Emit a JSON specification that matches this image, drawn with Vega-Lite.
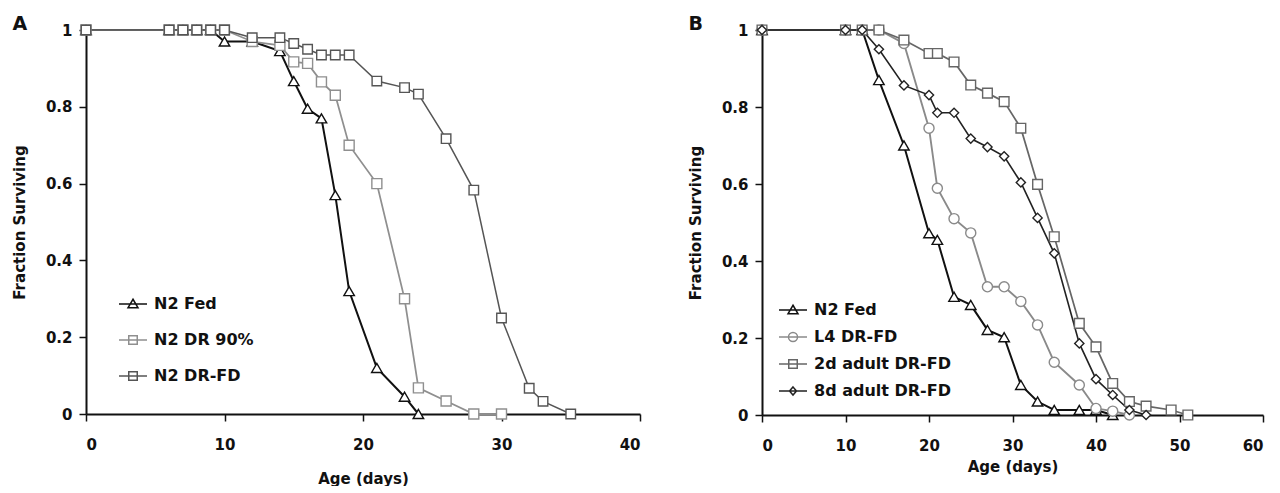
{
  "$schema": "https://vega.github.io/schema/vega-lite/v6.json",
  "background": "white",
  "padding": {"left": 12, "top": 15, "right": 5, "bottom": 0},
  "resolve": {"scale": {"stroke": "independent", "shape": "independent", "size": "independent", "strokeWidth": "independent"}, "legend": {"stroke": "independent", "shape": "independent"}},
  "config": {
    "font": "DejaVu Sans",
    "view": {"stroke": null},
    "concat": {"spacing": 47},
    "axis": {
      "grid": false, "domainColor": "#111", "domainWidth": 2,
      "tickColor": "#111", "tickWidth": 1.5, "tickSize": 7,
      "labelFont": "DejaVu Sans", "labelFontWeight": "bold", "labelFontSize": 15, "labelColor": "#111",
      "titleFont": "DejaVu Sans", "titleFontWeight": "bold", "titleFontSize": 15, "titleColor": "#111"
    },
    "axisY": {"labelPadding": 7, "titlePadding": 18},
    "axisX": {"labelPadding": 16},
    "legend": {
      "orient": "none", "padding": 0, "title": null,
      "labelFont": "DejaVu Sans", "labelFontWeight": "bold", "labelFontSize": 16, "labelColor": "#111",
      "symbolSize": 100, "labelOffset": 13, "symbolStrokeWidth": 1.5, "symbolFillColor": "white", "symbolOpacity": 1
    },
    "title": {"font": "DejaVu Sans", "fontSize": 19, "fontWeight": "bold", "color": "#111", "anchor": "start", "frame": "bounds", "offset": -12}
  },
  "hconcat": [
    {
      "title": "A",
      "width": 554,
      "height": 384,
      "data": {"values": [
        {"series": "N2 Fed", "day": 0, "frac": 1}, {"series": "N2 Fed", "day": 6, "frac": 1}, {"series": "N2 Fed", "day": 7, "frac": 1}, {"series": "N2 Fed", "day": 8, "frac": 1}, {"series": "N2 Fed", "day": 9, "frac": 1},
        {"series": "N2 Fed", "day": 10, "frac": 0.97}, {"series": "N2 Fed", "day": 12, "frac": 0.97}, {"series": "N2 Fed", "day": 14, "frac": 0.945}, {"series": "N2 Fed", "day": 15, "frac": 0.867}, {"series": "N2 Fed", "day": 16, "frac": 0.795},
        {"series": "N2 Fed", "day": 17, "frac": 0.77}, {"series": "N2 Fed", "day": 18, "frac": 0.57}, {"series": "N2 Fed", "day": 19, "frac": 0.32}, {"series": "N2 Fed", "day": 21, "frac": 0.12}, {"series": "N2 Fed", "day": 23, "frac": 0.045}, {"series": "N2 Fed", "day": 24, "frac": 0},
        {"series": "N2 DR 90%", "day": 0, "frac": 1}, {"series": "N2 DR 90%", "day": 6, "frac": 1}, {"series": "N2 DR 90%", "day": 7, "frac": 1}, {"series": "N2 DR 90%", "day": 8, "frac": 1}, {"series": "N2 DR 90%", "day": 9, "frac": 1}, {"series": "N2 DR 90%", "day": 10, "frac": 1},
        {"series": "N2 DR 90%", "day": 12, "frac": 0.97}, {"series": "N2 DR 90%", "day": 14, "frac": 0.96}, {"series": "N2 DR 90%", "day": 15, "frac": 0.917}, {"series": "N2 DR 90%", "day": 16, "frac": 0.913}, {"series": "N2 DR 90%", "day": 17, "frac": 0.865},
        {"series": "N2 DR 90%", "day": 18, "frac": 0.83}, {"series": "N2 DR 90%", "day": 19, "frac": 0.7}, {"series": "N2 DR 90%", "day": 21, "frac": 0.6}, {"series": "N2 DR 90%", "day": 23, "frac": 0.3}, {"series": "N2 DR 90%", "day": 24, "frac": 0.068},
        {"series": "N2 DR 90%", "day": 26, "frac": 0.034}, {"series": "N2 DR 90%", "day": 28, "frac": 0}, {"series": "N2 DR 90%", "day": 30, "frac": 0},
        {"series": "N2 DR-FD", "day": 0, "frac": 1}, {"series": "N2 DR-FD", "day": 6, "frac": 1}, {"series": "N2 DR-FD", "day": 7, "frac": 1}, {"series": "N2 DR-FD", "day": 8, "frac": 1}, {"series": "N2 DR-FD", "day": 9, "frac": 1}, {"series": "N2 DR-FD", "day": 10, "frac": 1},
        {"series": "N2 DR-FD", "day": 12, "frac": 0.98}, {"series": "N2 DR-FD", "day": 14, "frac": 0.98}, {"series": "N2 DR-FD", "day": 15, "frac": 0.965}, {"series": "N2 DR-FD", "day": 16, "frac": 0.95}, {"series": "N2 DR-FD", "day": 17, "frac": 0.935},
        {"series": "N2 DR-FD", "day": 18, "frac": 0.935}, {"series": "N2 DR-FD", "day": 19, "frac": 0.935}, {"series": "N2 DR-FD", "day": 21, "frac": 0.867}, {"series": "N2 DR-FD", "day": 23, "frac": 0.85}, {"series": "N2 DR-FD", "day": 24, "frac": 0.833},
        {"series": "N2 DR-FD", "day": 26, "frac": 0.717}, {"series": "N2 DR-FD", "day": 28, "frac": 0.583}, {"series": "N2 DR-FD", "day": 30, "frac": 0.25}, {"series": "N2 DR-FD", "day": 32, "frac": 0.067}, {"series": "N2 DR-FD", "day": 33, "frac": 0.033}, {"series": "N2 DR-FD", "day": 35, "frac": 0}
      ]},
      "encoding": {
        "x": {"field": "day", "type": "quantitative", "scale": {"domain": [0, 40], "nice": false}, "axis": {"values": [0, 10, 20, 30, 40], "title": "Age (days)", "titlePadding": 19}},
        "y": {"field": "frac", "type": "quantitative", "scale": {"domain": [0, 1], "nice": false}, "axis": {"values": [0, 0.2, 0.4, 0.6, 0.8, 1], "format": ".1~f", "title": "Fraction Surviving"}}
      },
      "resolve": {"scale": {"stroke": "independent", "shape": "independent"}, "legend": {"stroke": "independent", "shape": "independent"}},
      "layer": [
        {"mark": {"type": "line"},
         "encoding": {
           "stroke": {"field": "series", "type": "nominal", "scale": {"domain": ["N2 Fed", "N2 DR 90%", "N2 DR-FD"], "range": ["#111111", "#8f8f8f", "#555555"]}, "legend": null},
           "strokeWidth": {"field": "series", "type": "nominal", "scale": {"domain": ["N2 Fed", "N2 DR 90%", "N2 DR-FD"], "range": [2, 1.5, 1.8]}, "legend": null}}},
        {"mark": {"type": "point", "filled": false, "fill": "white", "fillOpacity": 1, "opacity": 1, "strokeWidth": 1.4},
         "encoding": {
           "stroke": {"field": "series", "type": "nominal", "scale": {"domain": ["N2 Fed", "N2 DR 90%", "N2 DR-FD"], "range": ["#111111", "#8f8f8f", "#555555"]}, "legend": null},
           "shape": {"field": "series", "type": "nominal", "scale": {"domain": ["N2 Fed", "N2 DR 90%", "N2 DR-FD"], "range": ["triangle-up", "square", "square"]}, "legend": null},
           "size": {"field": "series", "type": "nominal", "scale": {"domain": ["N2 Fed", "N2 DR 90%", "N2 DR-FD"], "range": [110, 90, 90]}, "legend": null}
         }},
        {"transform": [{"filter": "datum.day < 0"}],
         "mark": {"type": "point", "filled": false, "strokeWidth": 1.5},
         "encoding": {
           "stroke": {"field": "series", "type": "nominal", "scale": {"domain": ["N2 Fed", "N2 DR 90%", "N2 DR-FD"], "range": ["#111111", "#8f8f8f", "#555555"]},
             "legend": {"legendX": 39, "legendY": 266, "rowPadding": 20}},
           "shape": {"field": "series", "type": "nominal", "scale": {"domain": ["N2 Fed", "N2 DR 90%", "N2 DR-FD"], "range": ["M-2.8,0H2.8M0,-0.95L1,0.75H-1Z", "M-2.8,0H2.8M-0.85,-0.85H0.85V0.85H-0.85Z", "M-2.8,0H2.8M-0.85,-0.85H0.85V0.85H-0.85Z"]},
             "legend": {"legendX": 39, "legendY": 266, "rowPadding": 20}}
         }}
      ]
    },
    {
      "title": "B",
      "width": 501,
      "height": 385,
      "data": {"values": [
        {"series": "N2 Fed", "day": 0, "frac": 1}, {"series": "N2 Fed", "day": 10, "frac": 1}, {"series": "N2 Fed", "day": 12, "frac": 1}, {"series": "N2 Fed", "day": 14, "frac": 0.87}, {"series": "N2 Fed", "day": 17, "frac": 0.7},
        {"series": "N2 Fed", "day": 20, "frac": 0.472}, {"series": "N2 Fed", "day": 21, "frac": 0.455}, {"series": "N2 Fed", "day": 23, "frac": 0.307}, {"series": "N2 Fed", "day": 25, "frac": 0.286}, {"series": "N2 Fed", "day": 27, "frac": 0.221},
        {"series": "N2 Fed", "day": 29, "frac": 0.202}, {"series": "N2 Fed", "day": 31, "frac": 0.078}, {"series": "N2 Fed", "day": 33, "frac": 0.035}, {"series": "N2 Fed", "day": 35, "frac": 0.013}, {"series": "N2 Fed", "day": 38, "frac": 0.013},
        {"series": "N2 Fed", "day": 40, "frac": 0.013}, {"series": "N2 Fed", "day": 42, "frac": 0},
        {"series": "L4 DR-FD", "day": 0, "frac": 1}, {"series": "L4 DR-FD", "day": 10, "frac": 1}, {"series": "L4 DR-FD", "day": 12, "frac": 1}, {"series": "L4 DR-FD", "day": 14, "frac": 1}, {"series": "L4 DR-FD", "day": 17, "frac": 0.965},
        {"series": "L4 DR-FD", "day": 20, "frac": 0.745}, {"series": "L4 DR-FD", "day": 21, "frac": 0.589}, {"series": "L4 DR-FD", "day": 23, "frac": 0.51}, {"series": "L4 DR-FD", "day": 25, "frac": 0.473}, {"series": "L4 DR-FD", "day": 27, "frac": 0.333},
        {"series": "L4 DR-FD", "day": 29, "frac": 0.333}, {"series": "L4 DR-FD", "day": 31, "frac": 0.295}, {"series": "L4 DR-FD", "day": 33, "frac": 0.234}, {"series": "L4 DR-FD", "day": 35, "frac": 0.137}, {"series": "L4 DR-FD", "day": 38, "frac": 0.078},
        {"series": "L4 DR-FD", "day": 40, "frac": 0.017}, {"series": "L4 DR-FD", "day": 42, "frac": 0.01}, {"series": "L4 DR-FD", "day": 44, "frac": 0},
        {"series": "2d adult DR-FD", "day": 0, "frac": 1}, {"series": "2d adult DR-FD", "day": 10, "frac": 1}, {"series": "2d adult DR-FD", "day": 12, "frac": 1}, {"series": "2d adult DR-FD", "day": 14, "frac": 1}, {"series": "2d adult DR-FD", "day": 17, "frac": 0.974},
        {"series": "2d adult DR-FD", "day": 20, "frac": 0.939}, {"series": "2d adult DR-FD", "day": 21, "frac": 0.939}, {"series": "2d adult DR-FD", "day": 23, "frac": 0.917}, {"series": "2d adult DR-FD", "day": 25, "frac": 0.857}, {"series": "2d adult DR-FD", "day": 27, "frac": 0.836},
        {"series": "2d adult DR-FD", "day": 29, "frac": 0.814}, {"series": "2d adult DR-FD", "day": 31, "frac": 0.745}, {"series": "2d adult DR-FD", "day": 33, "frac": 0.599}, {"series": "2d adult DR-FD", "day": 35, "frac": 0.463}, {"series": "2d adult DR-FD", "day": 38, "frac": 0.238},
        {"series": "2d adult DR-FD", "day": 40, "frac": 0.177}, {"series": "2d adult DR-FD", "day": 42, "frac": 0.082}, {"series": "2d adult DR-FD", "day": 44, "frac": 0.035}, {"series": "2d adult DR-FD", "day": 46, "frac": 0.023}, {"series": "2d adult DR-FD", "day": 49, "frac": 0.013},
        {"series": "2d adult DR-FD", "day": 51, "frac": 0},
        {"series": "8d adult DR-FD", "day": 0, "frac": 1}, {"series": "8d adult DR-FD", "day": 10, "frac": 1}, {"series": "8d adult DR-FD", "day": 12, "frac": 1}, {"series": "8d adult DR-FD", "day": 14, "frac": 0.95}, {"series": "8d adult DR-FD", "day": 17, "frac": 0.856},
        {"series": "8d adult DR-FD", "day": 20, "frac": 0.831}, {"series": "8d adult DR-FD", "day": 21, "frac": 0.785}, {"series": "8d adult DR-FD", "day": 23, "frac": 0.785}, {"series": "8d adult DR-FD", "day": 25, "frac": 0.718}, {"series": "8d adult DR-FD", "day": 27, "frac": 0.696},
        {"series": "8d adult DR-FD", "day": 29, "frac": 0.672}, {"series": "8d adult DR-FD", "day": 31, "frac": 0.604}, {"series": "8d adult DR-FD", "day": 33, "frac": 0.512}, {"series": "8d adult DR-FD", "day": 35, "frac": 0.42}, {"series": "8d adult DR-FD", "day": 38, "frac": 0.186},
        {"series": "8d adult DR-FD", "day": 40, "frac": 0.093}, {"series": "8d adult DR-FD", "day": 42, "frac": 0.052}, {"series": "8d adult DR-FD", "day": 44, "frac": 0.013}, {"series": "8d adult DR-FD", "day": 46, "frac": 0}
      ]},
      "encoding": {
        "x": {"field": "day", "type": "quantitative", "scale": {"domain": [0, 60], "nice": false}, "axis": {"values": [0, 10, 20, 30, 40, 50, 60], "title": "Age (days)", "titlePadding": 6}},
        "y": {"field": "frac", "type": "quantitative", "scale": {"domain": [0, 1], "nice": false}, "axis": {"values": [0, 0.2, 0.4, 0.6, 0.8, 1], "format": ".1~f", "title": "Fraction Surviving"}}
      },
      "resolve": {"scale": {"stroke": "independent", "shape": "independent"}, "legend": {"stroke": "independent", "shape": "independent"}},
      "layer": [
        {"mark": {"type": "line"},
         "encoding": {
           "stroke": {"field": "series", "type": "nominal", "scale": {"domain": ["N2 Fed", "L4 DR-FD", "2d adult DR-FD", "8d adult DR-FD"], "range": ["#111111", "#8a8a8a", "#666666", "#222222"]}, "legend": null},
           "strokeWidth": {"field": "series", "type": "nominal", "scale": {"domain": ["N2 Fed", "L4 DR-FD", "2d adult DR-FD", "8d adult DR-FD"], "range": [2, 1.6, 1.8, 2]}, "legend": null}}},
        {"mark": {"type": "point", "filled": false, "fill": "white", "fillOpacity": 1, "opacity": 1, "strokeWidth": 1.4},
         "encoding": {
           "stroke": {"field": "series", "type": "nominal", "scale": {"domain": ["N2 Fed", "L4 DR-FD", "2d adult DR-FD", "8d adult DR-FD"], "range": ["#111111", "#8a8a8a", "#666666", "#222222"]}, "legend": null},
           "shape": {"field": "series", "type": "nominal", "scale": {"domain": ["N2 Fed", "L4 DR-FD", "2d adult DR-FD", "8d adult DR-FD"], "range": ["triangle-up", "circle", "square", "diamond"]}, "legend": null},
           "size": {"field": "series", "type": "nominal", "scale": {"domain": ["N2 Fed", "L4 DR-FD", "2d adult DR-FD", "8d adult DR-FD"], "range": [110, 85, 90, 70]}, "legend": null}
         }},
        {"transform": [{"filter": "datum.day < 0"}],
         "mark": {"type": "point", "filled": false, "strokeWidth": 1.5},
         "encoding": {
           "stroke": {"field": "series", "type": "nominal", "scale": {"domain": ["N2 Fed", "L4 DR-FD", "2d adult DR-FD", "8d adult DR-FD"], "range": ["#111111", "#8a8a8a", "#666666", "#222222"]},
             "legend": {"legendX": 23, "legendY": 272, "rowPadding": 11}},
           "shape": {"field": "series", "type": "nominal", "scale": {"domain": ["N2 Fed", "L4 DR-FD", "2d adult DR-FD", "8d adult DR-FD"], "range": ["M-2.8,0H2.8M0,-0.95L1,0.75H-1Z", "M-2.8,0H2.8M0.9,0A0.9,0.9 0 1,1 -0.9,0A0.9,0.9 0 1,1 0.9,0Z", "M-2.8,0H2.8M-0.85,-0.85H0.85V0.85H-0.85Z", "M-2.8,0H2.8M0,-0.8L0.7,0L0,0.8L-0.7,0Z"]},
             "legend": {"legendX": 23, "legendY": 272, "rowPadding": 11}}
         }}
      ]
    }
  ]
}
